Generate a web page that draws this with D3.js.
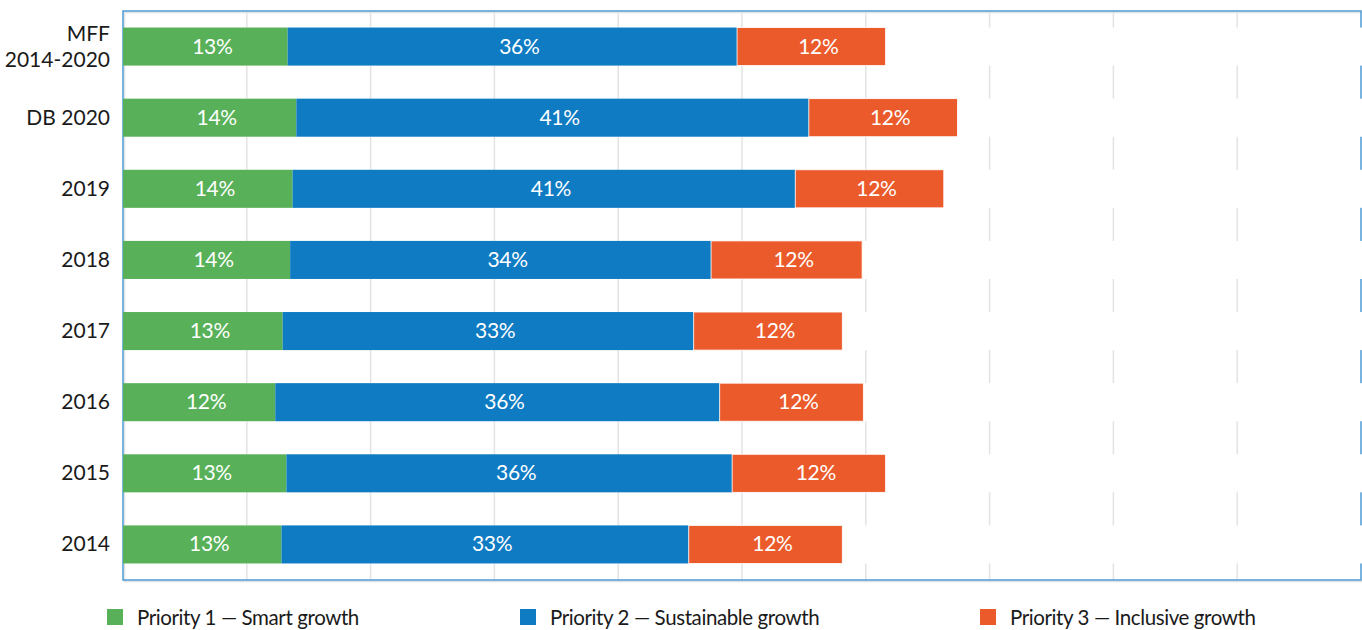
<!DOCTYPE html>
<html>
<head>
<meta charset="utf-8">
<script src="https://cdn.jsdelivr.net/npm/d3@7"></script>
<style>
  body { margin: 0; background: #fff; }
  svg text { font-family: Lato, "Noto Sans", sans-serif; }
</style>
</head>
<body>
<div id="chart"></div>
<script>
// categories, top to bottom
var categories = ["MFF\n2014-2020", "DB 2020", "2019", "2018", "2017", "2016", "2015", "2014"];
// share of each priority (%)
var smartGrowth = [13.3, 14.0, 13.7, 13.5, 12.9, 12.3, 13.2, 12.8];
var sustainableGrowth = [36.3, 41.4, 40.6, 34.0, 33.2, 35.9, 36.0, 32.9];
var inclusiveGrowth = [12.0, 12.0, 12.0, 12.2, 12.0, 11.6, 12.4, 12.4];
var seriesNames = ["Priority 1 \u2014 Smart growth", "Priority 2 \u2014 Sustainable growth", "Priority 3 \u2014 Inclusive growth"];
var colors = ["#58b158", "#0e7bc3", "#eb5a2a"];

var width = 1362, height = 630;
var margin = {top: 11, right: 1, bottom: 50, left: 123};

var svg = d3.select("#chart").append("svg")
    .attr("width", width)
    .attr("height", height);

var x = d3.scaleLinear().domain([0, 100]).range([margin.left, width - margin.right]);
var y = d3.scaleBand().domain(categories)
    .range([margin.top, height - margin.bottom])
    .paddingInner(0.465).paddingOuter(0.2325);

// build stacked rows
var rows = categories.map(function(c, i) {
  return {cat: c, vals: [smartGrowth[i], sustainableGrowth[i], inclusiveGrowth[i]]};
});

// shadow + frame
svg.append("rect")
    .attr("x", x(0) + 1.5).attr("y", margin.top + 1.5)
    .attr("width", x(100) - x(0)).attr("height", y.range()[1] - margin.top)
    .attr("fill", "none").attr("stroke", "#e2e2e2").attr("stroke-width", 1.5);

// gridlines
svg.append("g").selectAll("line")
    .data(d3.range(10, 100, 10))
    .enter().append("line")
    .attr("x1", function(d) { return x(d); })
    .attr("x2", function(d) { return x(d); })
    .attr("y1", margin.top)
    .attr("y2", y.range()[1])
    .attr("stroke", "#e3e3e3")
    .attr("stroke-width", 1.5);

svg.append("rect")
    .attr("x", x(0)).attr("y", margin.top)
    .attr("width", x(100) - x(0)).attr("height", y.range()[1] - margin.top)
    .attr("fill", "none").attr("stroke", "#4d9ad6").attr("stroke-width", 1.5);

// white bands hide the grid at each row
svg.append("g").selectAll("rect")
    .data(rows)
    .enter().append("rect")
    .attr("x", x(0) + 1)
    .attr("width", x(100) - x(0) + 0.5)
    .attr("y", function(d) { return y(d.cat); })
    .attr("height", y.bandwidth())
    .attr("fill", "#fff");

// bars
var rowG = svg.append("g").selectAll("g")
    .data(rows)
    .enter().append("g");

rowG.each(function(d) {
  var g = d3.select(this);
  var start = 0;
  d.vals.forEach(function(v, k) {
    var x0 = x(start), x1 = x(start + v);
    g.append("rect")
        .attr("x", x0)
        .attr("y", y(d.cat))
        .attr("width", x1 - x0)
        .attr("height", y.bandwidth())
        .attr("fill", colors[k])
        .attr("stroke", k == 2 ? "#fff" : "none")
        .attr("stroke-width", 0.8);
    g.append("text")
        .attr("x", (x0 + x1) / 2 + 7)
        .attr("y", y(d.cat) + y.bandwidth() / 2 + 7)
        .attr("text-anchor", "middle")
        .attr("fill", "#fff")
        .style("font-size", "21px")
        .style("letter-spacing", "-0.3px")
        .text(Math.round(v) + "%");
    start += v;
  });
});

// category labels
svg.append("g").selectAll("text")
    .data(categories)
    .enter().append("text")
    .attr("text-anchor", "end")
    .attr("fill", "#1a1a1a")
    .style("font-size", "21px")
    .each(function(c) {
      var lines = c.split("\n");
      var t = d3.select(this);
      var mid = y(c) + y.bandwidth() / 2;
      lines.forEach(function(l, i) {
        t.append("tspan")
            .attr("x", 110)
            .attr("y", mid + 7 + (i - (lines.length - 1) / 2) * 26)
            .text(l);
      });
    });

// legend
var legendX = [107, 520, 980];
var legend = svg.append("g").selectAll("g")
    .data(seriesNames)
    .enter().append("g")
    .attr("transform", function(d, i) { return "translate(" + legendX[i] + ",609)"; });
legend.append("rect")
    .attr("width", 16).attr("height", 16)
    .attr("fill", function(d, i) { return colors[i]; });
legend.append("text")
    .attr("x", 30).attr("y", 16)
    .attr("fill", "#1a1a1a")
    .style("font-size", "20.5px")
    .style("letter-spacing", "-0.4px")
    .text(function(d) { return d; });
</script>
</body>
</html>
